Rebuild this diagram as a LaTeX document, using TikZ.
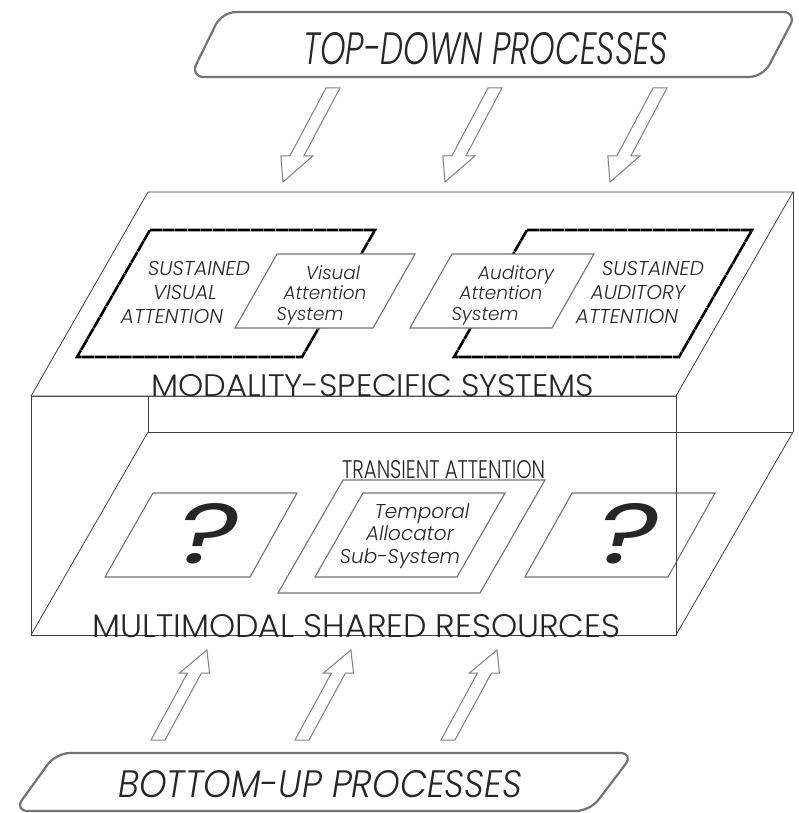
\documentclass[tikz,border=0pt]{standalone}
\usepackage{fontspec}
\newfontfamily\geo{Poppins Light}[ItalicFont={Poppins Light Italic}]
\newfontfamily\geor{Poppins}
\usetikzlibrary{calc}
\begin{document}
\begin{tikzpicture}[x=1pt,y=-1pt,
  boxline/.style={draw=black!75,line width=0.8pt},
  grayline/.style={draw=black!55,line width=1.1pt},
  dashbox/.style={draw=black,line width=2.6pt,dash pattern=on 12pt off 0.6pt},
  banner/.style={draw=black!55,line width=2.2pt,rounded corners=14pt},
  harrow/.style={draw=black!50,line width=1pt,fill=white},
  lbl/.style={inner sep=0pt,text=black!85},
  multi/.style={inner sep=0pt,text=black!85,anchor=base}]
\useasboundingbox (0,0) rectangle (799,813);
% ---- box coordinates
\coordinate (TBL) at (148,192); \coordinate (TBR) at (793,192);
\coordinate (TFR) at (676,396); \coordinate (TFL) at (31,396);
\coordinate (BBL) at (148,432); \coordinate (BBR) at (793,432);
\coordinate (BFR) at (676,635); \coordinate (BFL) at (31,635);
% back / floor
\draw[boxline] (TBR) -- (BBR);
\draw[boxline] (BBL) -- (BBR);
\draw[boxline] (TBL) -- (BBL);
\draw[boxline] (BBL) -- (BFL);
\draw[boxline] (BBR) -- (BFR);
% floor items
\draw[grayline] (153,493) -- (297,493) -- (250,577) -- (105,577) -- cycle;
\draw[grayline] (572,493) -- (715,493) -- (668,577) -- (525,577) -- cycle;
\draw[grayline] (343,480) -- (545,480) -- (480,593) -- (278,593) -- cycle;
\draw[grayline] (363,493) -- (505,493) -- (457,577) -- (315,577) -- cycle;
\node[lbl,anchor=base] (q1) at (208,563) {\resizebox{62pt}{60pt}{\geor\itshape ?}};
\node[lbl,anchor=base] (q2) at (628,563) {\resizebox{62pt}{60pt}{\geor\itshape ?}};
\node[lbl,anchor=base west] (trans) at (342,478) {\resizebox{203pt}{18pt}{\geo TRANSIENT ATTENTION}};
\node[multi] (temp) at (410,518) {\geo\itshape\fontsize{20}{22.5}\selectfont
  \begin{tabular}[t]{@{}c@{}}\hspace*{24pt}Temporal\\ Allocator\\ Sub-System\hspace*{20pt}\end{tabular}};
% front face
\draw[boxline] (TFL) rectangle (BFR);
% top face
\filldraw[boxline,fill=white] (TBL) -- (TBR) -- (TFR) -- (TFL) -- cycle;
% dashed areas
\draw[dashbox] (150,230) -- (375,230) -- (302,357) -- (77,357) -- cycle;
\draw[dashbox] (527,230) -- (752,230) -- (679,357) -- (454,357) -- cycle;
\filldraw[grayline,fill=white] (277,254) -- (415,254) -- (373,328) -- (235,328) -- cycle;
\filldraw[grayline,fill=white] (452,254) -- (594,254) -- (552,328) -- (410,328) -- cycle;
\node[multi] (sva) at (185,275) {\geo\itshape\fontsize{20}{24}\selectfont
  \begin{tabular}[t]{@{}c@{}}\hspace*{28pt}SUSTAINED\\ VISUAL\\ ATTENTION\hspace*{26pt}\end{tabular}};
\node[multi] (saa) at (638,275) {\geo\itshape\fontsize{20}{24}\selectfont
  \begin{tabular}[t]{@{}c@{}}\hspace*{30pt}SUSTAINED\\ AUDITORY\\ ATTENTION\hspace*{22pt}\end{tabular}};
\node[multi] (vas) at (325,279) {\geo\itshape\fontsize{18.5}{20.5}\selectfont
  \begin{tabular}[t]{@{}c@{}}\hspace*{16pt}Visual\\ Attention\\ System\hspace*{30pt}\end{tabular}};
\node[multi] (aas) at (501,279) {\geo\itshape\fontsize{18.5}{20.5}\selectfont
  \begin{tabular}[t]{@{}c@{}}\hspace*{30pt}Auditory\\ Attention\\ System\hspace*{32pt}\end{tabular}};
\node[lbl,anchor=base west] (mss) at (151,396) {\resizebox{443pt}{22pt}{\geo MODALITY-SPECIFIC SYSTEMS}};
\node[lbl,anchor=base west] (msr) at (92,637) {\resizebox{528pt}{23pt}{\geo MULTIMODAL SHARED RESOURCES}};
% banners
\draw[banner] (500,12) -- (797,12) -- (763,77) -- (190,77) -- (222,12) -- cycle;
\node[lbl,anchor=base west] (tdp) at (303,65) {\resizebox{365pt}{32pt}{\geo\itshape TOP-DOWN PROCESSES}};
\draw[banner] (300,753) -- (634,753) -- (590,811) -- (14,811) -- (56,753) -- cycle;
\node[lbl,anchor=base west] (bup) at (118,797) {\resizebox{404pt}{27pt}{\geo\itshape BOTTOM-UP PROCESSES}};
% top-down arrows
\foreach \x in {333,495,660}{
  \begin{scope}[shift={(\x,88)},xslant=0.532]
    \draw[harrow] (-7pt,0pt) -- (7pt,0pt) -- (7pt,-68pt) -- (16pt,-68pt) -- (0pt,-94pt)
      -- (-16pt,-68pt) -- (-7pt,-68pt) -- cycle;
  \end{scope}}
% bottom-up arrows
\foreach \x in {158,302,448}{
  \begin{scope}[shift={(\x,740)},xslant=0.544]
    \draw[harrow] (-7pt,0pt) -- (7pt,0pt) -- (7pt,67pt) -- (15pt,67pt) -- (0pt,90pt)
      -- (-15pt,67pt) -- (-7pt,67pt) -- cycle;
  \end{scope}}
\end{tikzpicture}
\end{document}
